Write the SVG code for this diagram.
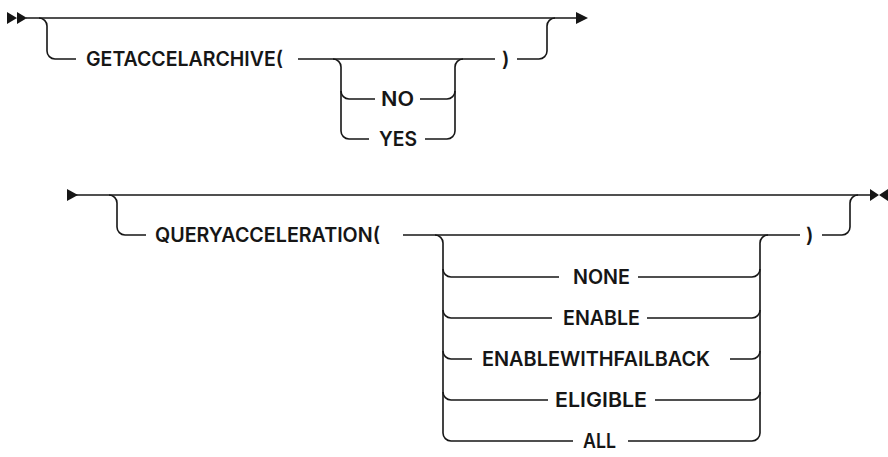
<svg xmlns="http://www.w3.org/2000/svg" width="888" height="457" viewBox="0 0 888 457">
<style>
.ln{fill:none;stroke:#161616;stroke-width:1.6;stroke-linecap:butt}
.ah{fill:#161616;stroke:none}
.t{font-family:Inter,"Liberation Sans",Arial,sans-serif;font-size:20px;font-weight:600;fill:#161616}
</style>
<rect width="888" height="457" fill="#ffffff"/>
<g id="connectors">
<!-- row 1 -->
<path class="ah" d="M7 12 L17 18 L7 24 Z M17 12 L27 18 L17 24 Z"/>
<path class="ln" d="M26 18 H577"/>
<path class="ah" d="M576 12 L588 18 L576 24 Z"/>
<path class="ln" d="M39 18 A8 8 0 0 1 47 26 V51 A8 8 0 0 0 55 59 H76"/>
<path class="ln" d="M298 59 H495"/>
<path class="ln" d="M333 59 A8 8 0 0 1 341 67 V131 A8 8 0 0 0 349 139 H369"/>
<path class="ln" d="M341 91 A8 8 0 0 0 349 99 H375"/>
<path class="ln" d="M425 139 H447 A8 8 0 0 0 455 131 V67 A8 8 0 0 1 463 59"/>
<path class="ln" d="M420 99 H447 A8 8 0 0 0 455 91"/>
<path class="ln" d="M517 59 H539 A8 8 0 0 0 547 51 V26 A8 8 0 0 1 555 18"/>
<!-- row 2 -->
<path class="ah" d="M67 189 L78 195 L67 201 Z"/>
<path class="ln" d="M76 195 H871"/>
<path class="ah" d="M870 189 L879 195 L870 201 Z M888 189 L879 195 L888 201 Z"/>
<path class="ln" d="M109 195 A8 8 0 0 1 117 203 V227 A8 8 0 0 0 125 235 H146"/>
<path class="ln" d="M403 235 H800"/>
<path class="ln" d="M435 235 A8 8 0 0 1 443 243 V433 A8 8 0 0 0 451 441 H573"/>
<path class="ln" d="M443 269 A8 8 0 0 0 451 277 H559"/>
<path class="ln" d="M443 310 A8 8 0 0 0 451 318 H552"/>
<path class="ln" d="M443 351 A8 8 0 0 0 451 359 H472"/>
<path class="ln" d="M443 392 A8 8 0 0 0 451 400 H548"/>
<path class="ln" d="M628 441 H752 A8 8 0 0 0 760 433 V243 A8 8 0 0 1 768 235"/>
<path class="ln" d="M638 277 H752 A8 8 0 0 0 760 269"/>
<path class="ln" d="M647 318 H752 A8 8 0 0 0 760 310"/>
<path class="ln" d="M730 359 H752 A8 8 0 0 0 760 351"/>
<path class="ln" d="M655 400 H752 A8 8 0 0 0 760 392"/>
<path class="ln" d="M822 235 H842 A8 8 0 0 0 850 227 V203 A8 8 0 0 1 858 195"/>
</g>
<g id="n-getaccelarchive"><text class="t" x="86" y="66" textLength="197" lengthAdjust="spacingAndGlyphs">GETACCELARCHIVE(</text></g>
<g id="n-no"><text class="t" x="381" y="106" textLength="33" lengthAdjust="spacingAndGlyphs">NO</text></g>
<g id="n-yes"><text class="t" x="379" y="146" textLength="38" lengthAdjust="spacingAndGlyphs">YES</text></g>
<g id="n-close1"><text class="t" x="502" y="66">)</text></g>
<g id="n-queryacceleration"><text class="t" x="155" y="242" textLength="225" lengthAdjust="spacingAndGlyphs">QUERYACCELERATION(</text></g>
<g id="n-none"><text class="t" x="573" y="284" textLength="57" lengthAdjust="spacingAndGlyphs">NONE</text></g>
<g id="n-enable"><text class="t" x="563" y="325" textLength="77" lengthAdjust="spacingAndGlyphs">ENABLE</text></g>
<g id="n-enablewithfailback"><text class="t" x="482" y="366" textLength="228" lengthAdjust="spacingAndGlyphs">ENABLEWITHFAILBACK</text></g>
<g id="n-eligible"><text class="t" x="555" y="407" textLength="92" lengthAdjust="spacingAndGlyphs">ELIGIBLE</text></g>
<g id="n-all"><text class="t" x="583" y="448" textLength="33" lengthAdjust="spacingAndGlyphs">ALL</text></g>
<g id="n-close2"><text class="t" x="806" y="242">)</text></g>
</svg>
